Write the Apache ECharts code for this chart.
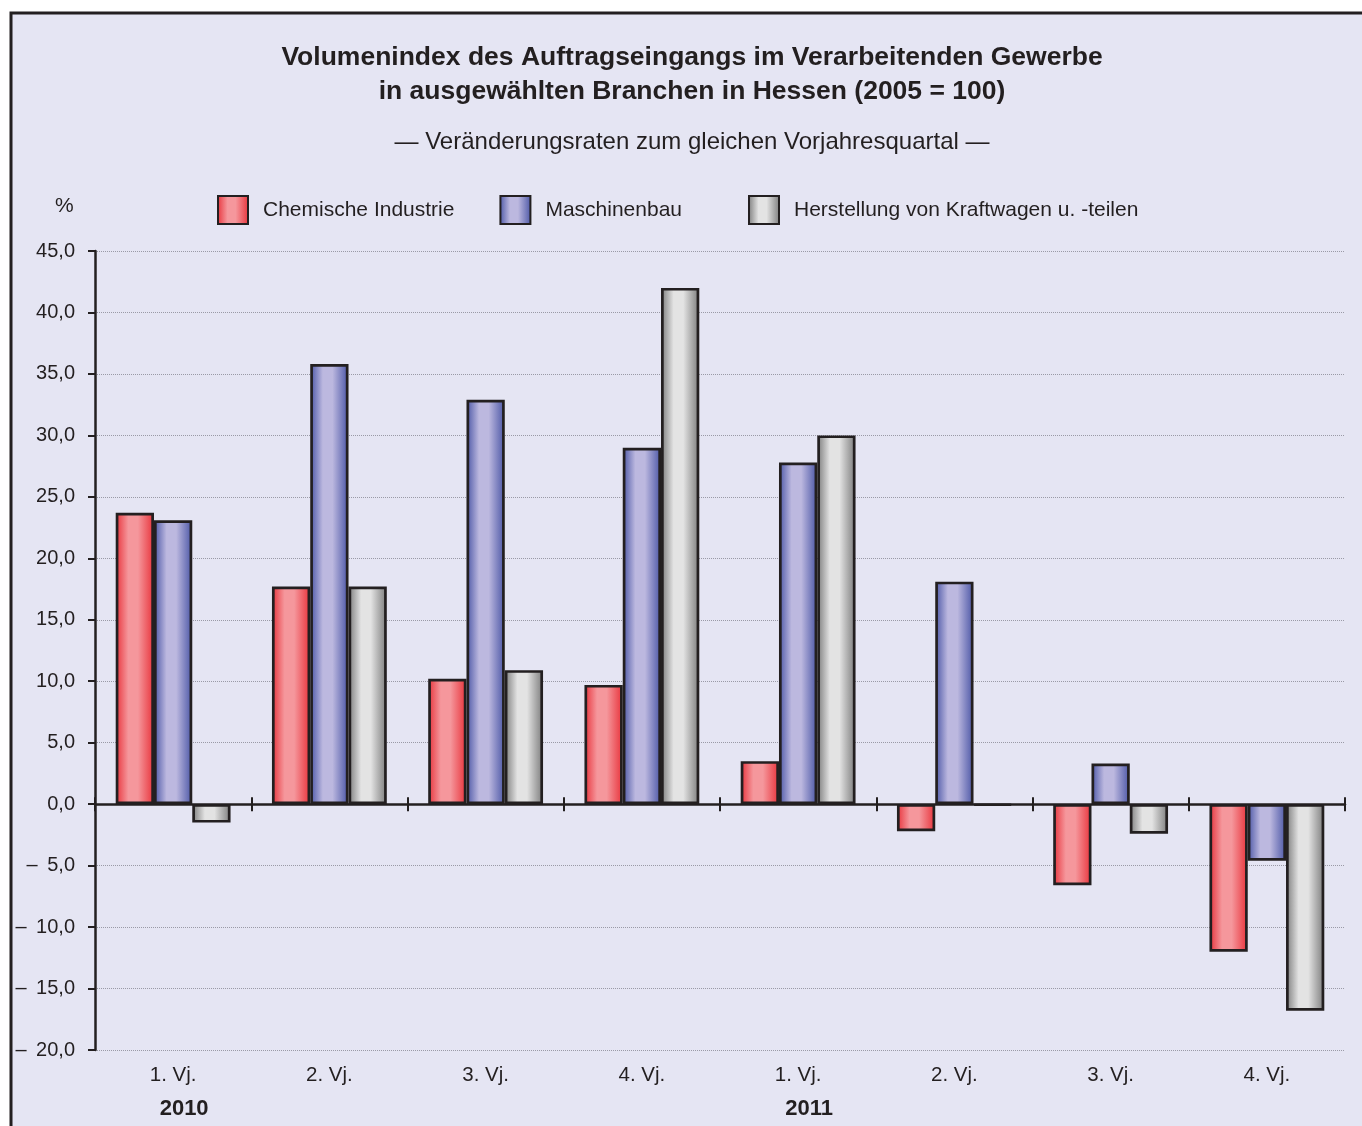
<!DOCTYPE html>
<html><head><meta charset="utf-8">
<script src="https://cdn.jsdelivr.net/npm/echarts@6/dist/echarts.min.js"></script>
<style>html,body{margin:0;padding:0;background:#fff}#c{width:1362px;height:1126px}</style>
</head><body><div id="c"></div>
<script>
const categories = ['1. Vj.','2. Vj.','3. Vj.','4. Vj.','1. Vj.','2. Vj.','3. Vj.','4. Vj.'];
const years = ['2010','','','','2011','','',''];
const seriesNames = ['Chemische Industrie','Maschinenbau','Herstellung von Kraftwagen u. -teilen'];
const chemie = [23.7, 17.7, 10.2, 9.7, 3.5, -2.2, -6.6, -12.0];
const maschinenbau = [23.1, 35.8, 32.9, 29.0, 27.8, 18.1, 3.3, -4.6];
const kraftwagen = [-1.5, 17.7, 10.9, 42.0, 30.0, -0.1, -2.4, -16.8];
const yMin = -20, yMax = 45, yStep = 5;
const titleText = 'Volumenindex des Auftragseingangs im Verarbeitenden Gewerbe\nin ausgewählten Branchen in Hessen (2005 = 100)';
const subtitleText = '— Veränderungsraten zum gleichen Vorjahresquartal —';

const chart = echarts.init(document.getElementById('c'));
const font = '"Liberation Sans", Arial, sans-serif';
const ink = '#231f20';
const gridTop = 251;
function grad(dark, light){
  return new echarts.graphic.LinearGradient(0,0,1,0,[
    {offset:0,color:dark},{offset:0.33,color:light},{offset:0.58,color:light},{offset:1,color:dark}]);
}
const fills = [grad('#e8323a','#f5979c'), grad('#4a55a5','#bcb8df'), grad('#7b7b7b','#e3e3e3')];
const data = [chemie, maschinenbau, kraftwagen];
function fmt(v){ const s = Math.abs(v).toFixed(1).replace('.', ','); return v < 0 ? '\u2013\u2009 ' + s : s; }
const legendCommon = {top:190, itemWidth:30, itemHeight:28, itemGap:45, icon:'rect',
  textStyle:{fontSize:21, color:ink, fontFamily:font, padding:[0,0,0,10]}};

chart.setOption({
  animation:false,
  backgroundColor:'#ffffff',
  textStyle:{fontFamily:font},
  graphic:[
    {type:'rect', z:-10, silent:true, shape:{x:11,y:13,width:1360,height:1120},
     style:{fill:'#e5e5f3', stroke:ink, lineWidth:3}},
    {type:'text', x:692, y:41, style:{text:titleText, align:'center', verticalAlign:'top',
      font:'bold 26.5px ' + font, lineHeight:34, fill:ink}},
    {type:'text', x:692, y:142, style:{text:subtitleText, align:'center', verticalAlign:'middle',
      font:'24px ' + font, fill:ink}},
    {type:'text', left:55, top:196, style:{text:'%', font:'21px ' + font, fill:ink}}
  ],
  legend:[
    Object.assign({left:212, data:seriesNames.slice(0,2)}, legendCommon),
    Object.assign({left:743, data:seriesNames.slice(2)}, legendCommon)
  ],
  grid:{left:95, right:17, top:gridTop, bottom:76, containLabel:false},
  xAxis:[
    {type:'category', data:categories, position:'bottom', axisLine:{show:false, onZero:false},
     axisTick:{show:false},
     axisLabel:{margin:9, color:ink, fontSize:20.5, lineHeight:33, fontFamily:font,
       formatter:(v,i)=> v + '\n{y|' + (years[i] || ' ') + '}',
       rich:{y:{fontSize:22, fontWeight:'bold', color:ink, lineHeight:33, padding:[0,0,0,22], fontFamily:font}}},
     splitLine:{show:false}},
    {type:'category', data:categories, position:'bottom', axisLine:{show:true, onZero:true, lineStyle:{color:ink, width:2.5}},
     axisTick:{show:true, length:7, lineStyle:{color:ink, width:2}}, axisLabel:{show:false}},
    {type:'category', data:categories, position:'top', offset:0, axisLine:{show:false, onZero:false},
     axisTick:{show:true, length:7, lineStyle:{color:ink, width:2}}, axisLabel:{show:false}}
  ],
  yAxis:{type:'value', min:yMin, max:yMax, interval:yStep,
    axisLine:{show:true, lineStyle:{color:ink, width:2.5}},
    axisTick:{show:true, length:7, lineStyle:{color:ink, width:2}},
    axisLabel:{formatter:fmt, color:ink, fontSize:20, margin:20, fontFamily:font},
    splitLine:{show:true, lineStyle:{color:'#9a9aa6', type:'dotted', width:1}}
  },
  series: seriesNames.map((n,k)=>({
    name:n, type:'bar', data:data[k], barWidth:'24.5%', barGap:'0%', xAxisIndex:0,
    itemStyle:{color:fills[k], borderColor:ink, borderWidth:2.7}
  }))
});
// place the upward half of the crossing ticks on the zero line (position from the y scale)
const zeroY = chart.convertToPixel({yAxisIndex:0}, 0);
chart.setOption({xAxis:[{}, {}, {offset: -(zeroY - gridTop)}]});
</script></body></html>
